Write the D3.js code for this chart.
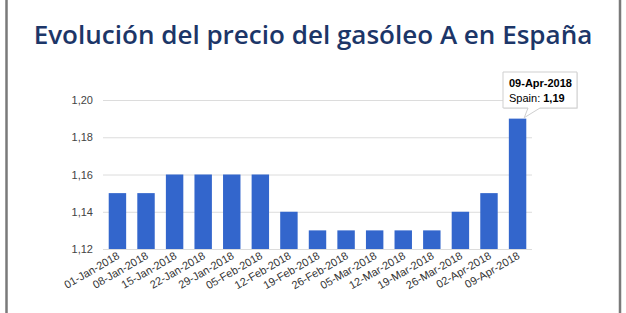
<!DOCTYPE html>
<html>
<head>
<meta charset="utf-8">
<script src="https://cdn.jsdelivr.net/npm/d3@7"></script>
<style>
  html, body { margin: 0; padding: 0; background: #fff; }
  svg { display: block; }
</style>
</head>
<body>
<svg id="chart" width="626" height="313"></svg>
<script>
const titleText = "Evolución del precio del gasóleo A en España";
const dates = ["01-Jan-2018","08-Jan-2018","15-Jan-2018","22-Jan-2018","29-Jan-2018","05-Feb-2018","12-Feb-2018","19-Feb-2018","26-Feb-2018","05-Mar-2018","12-Mar-2018","19-Mar-2018","26-Mar-2018","02-Apr-2018","09-Apr-2018"];
const values = [1.15,1.15,1.16,1.16,1.16,1.16,1.14,1.13,1.13,1.13,1.13,1.13,1.14,1.15,1.19];
const yTicks = [1.12,1.14,1.16,1.18,1.20];
const seriesName = "Spain";
const tooltipIndex = 14;

const svg = d3.select("#chart");
const W = 626, H = 313;
const plot = {left: 103, right: 532, top: 100, bottom: 249};
const fmt = v => d3.format(".2f")(v).replace(".", ",");

// frame borders
svg.append("line").attr("x1", 6.5).attr("x2", 6.5).attr("y1", 0).attr("y2", H)
  .attr("stroke", "#7a7a7a").attr("stroke-width", 2.5);
svg.append("line").attr("x1", 620).attr("x2", 620).attr("y1", 0).attr("y2", H)
  .attr("stroke", "#7a7a7a").attr("stroke-width", 2.5);

// title
const title = svg.append("text")
  .attr("x", 313).attr("y", 44)
  .attr("text-anchor", "middle")
  .attr("font-family", "'Open Sans', sans-serif")
  .attr("font-weight", 600)
  .attr("font-size", 24)
  .attr("fill", "#1c3668")
  .text(titleText);
const tl = title.node().getComputedTextLength();
title.attr("font-size", 24 * 559 / tl);

const x = d3.scaleBand().domain(dates).range([plot.left, plot.right]).paddingInner(0.39).paddingOuter(0.2);
const y = d3.scaleLinear().domain([1.12, 1.20]).range([plot.bottom, plot.top]);

// gridlines
const yAxis = d3.axisLeft(y).tickValues(yTicks).tickFormat(fmt).tickSize(-(plot.right - plot.left)).tickPadding(10);
const gy = svg.append("g").attr("transform", `translate(${plot.left},0)`).call(yAxis);
gy.select(".domain").remove();
gy.selectAll(".tick line").attr("stroke", "#dcdcdc");
gy.selectAll(".tick text").attr("font-family", "Arial, 'Liberation Sans', sans-serif")
  .attr("font-size", 11).attr("fill", "#444");

// bars
svg.append("g").selectAll("rect").data(values).join("rect")
  .attr("x", (d, i) => x(dates[i]))
  .attr("width", x.bandwidth())
  .attr("y", d => y(d))
  .attr("height", d => y(1.12) - y(d))
  .attr("fill", "#3366cc");

// x labels
svg.append("g").selectAll("text").data(dates).join("text")
  .attr("transform", d => `translate(${x(d) + x.bandwidth() / 2 + 3},${plot.bottom + 9}) rotate(-30)`)
  .attr("text-anchor", "end")
  .attr("font-family", "Arial, 'Liberation Sans', sans-serif")
  .attr("font-size", 11)
  .attr("fill", "#333")
  .text(d => d);

// tooltip
const bx = x(dates[tooltipIndex]) + x.bandwidth();
const by = y(values[tooltipIndex]);
const tip = {x: 503, y: 72, w: 74, h: 36};
const tg = svg.append("g");
tg.append("rect").attr("x", tip.x + 1).attr("y", tip.y + 1).attr("width", tip.w).attr("height", tip.h)
  .attr("fill", "#000").attr("opacity", 0.08);
tg.append("path")
  .attr("d", `M${tip.x},${tip.y} H${tip.x + tip.w} V${tip.y + tip.h} H${tip.x + 37} L${bx - 2},${by - 1} L${tip.x + 25},${tip.y + tip.h} H${tip.x} Z`)
  .attr("fill", "#fff").attr("stroke", "#cfcfcf").attr("stroke-width", 1);
tg.append("text").attr("x", tip.x + 6).attr("y", tip.y + 15)
  .attr("font-family", "Arial, 'Liberation Sans', sans-serif").attr("font-size", 11)
  .attr("font-weight", "bold").attr("fill", "#000").text(dates[tooltipIndex]);
const t2 = tg.append("text").attr("x", tip.x + 6).attr("y", tip.y + 30)
  .attr("font-family", "Arial, 'Liberation Sans', sans-serif").attr("font-size", 11).attr("fill", "#000");
t2.append("tspan").text(seriesName + ": ");
t2.append("tspan").attr("font-weight", "bold").text(fmt(values[tooltipIndex]));
</script>
</body>
</html>
